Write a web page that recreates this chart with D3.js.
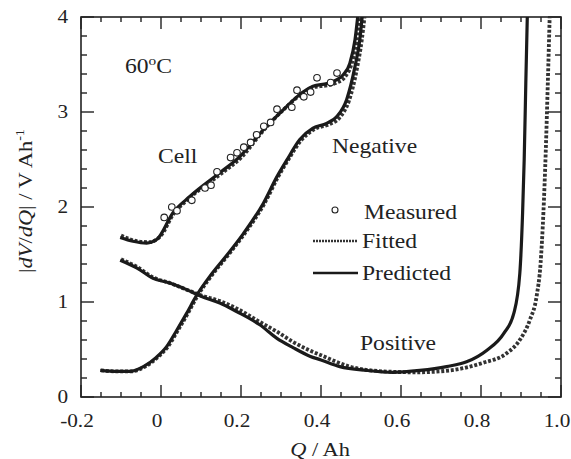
<!DOCTYPE html>
<html>
<head>
<meta charset="utf-8">
<script src="https://cdn.jsdelivr.net/npm/d3@7"></script>
<style>
  body { margin: 0; background: #fff; }
  text { font-family: "Liberation Serif", "Times New Roman", serif; fill: #222; }
</style>
</head>
<body>
<svg width="571" height="459"></svg>
<script>
// dV/dQ of cell and electrodes at 60 C

var xTicks = [-0.2, 0, 0.2, 0.4, 0.6, 0.8, 1.0];
var xTickLabels = ['-0.2', '0', '0.2', '0.4', '0.6', '0.8', '1.0'];
var yTicks = [0, 1, 2, 3, 4];

// measured cell points
var cellMeasured = [
  [0.008, 1.89], [0.027, 2.0], [0.04, 1.96], [0.077, 2.07], [0.11, 2.2],
  [0.125, 2.23], [0.14, 2.37], [0.174, 2.52], [0.19, 2.57], [0.207, 2.63],
  [0.224, 2.68], [0.239, 2.76], [0.257, 2.85], [0.274, 2.89], [0.29, 3.03],
  [0.327, 3.05], [0.34, 3.23], [0.357, 3.16], [0.374, 3.21], [0.39, 3.36],
  [0.424, 3.31], [0.44, 3.41]
];

var cellPredicted = [
  [-0.102, 1.68], [-0.07, 1.64], [-0.036, 1.62], [-0.01, 1.66], [0.03, 1.94],
  [0.072, 2.11], [0.147, 2.36], [0.197, 2.53], [0.255, 2.81], [0.305, 3.02],
  [0.355, 3.21], [0.38, 3.27], [0.415, 3.3], [0.44, 3.34], [0.455, 3.39],
  [0.472, 3.51], [0.485, 3.76], [0.493, 4.05]
];

var cellFitted = [
  [-0.1, 1.7], [-0.06, 1.64], [-0.03, 1.63], [0, 1.7], [0.03, 1.92],
  [0.07, 2.09], [0.15, 2.35], [0.2, 2.52], [0.255, 2.8], [0.305, 3.02],
  [0.355, 3.2], [0.38, 3.26], [0.415, 3.28], [0.44, 3.31], [0.46, 3.37],
  [0.476, 3.5], [0.489, 3.74], [0.497, 4.05]
];

var negPredicted = [
  [-0.152, 0.28], [-0.11, 0.27], [-0.078, 0.27], [-0.044, 0.32], [-0.011, 0.42],
  [0.014, 0.53], [0.039, 0.7], [0.064, 0.88], [0.089, 1.07], [0.122, 1.27],
  [0.164, 1.49], [0.206, 1.72], [0.256, 2.04], [0.29, 2.32], [0.314, 2.49],
  [0.347, 2.71], [0.38, 2.83], [0.414, 2.88], [0.439, 2.95], [0.464, 3.13],
  [0.485, 3.48], [0.497, 3.76], [0.504, 4.05]
];

var negFitted = [
  [-0.15, 0.28], [-0.11, 0.27], [-0.075, 0.27], [-0.04, 0.32], [-0.008, 0.42],
  [0.017, 0.53], [0.042, 0.7], [0.067, 0.88], [0.092, 1.07], [0.125, 1.27],
  [0.167, 1.49], [0.209, 1.72], [0.259, 2.04], [0.293, 2.32], [0.317, 2.49],
  [0.35, 2.7], [0.384, 2.82], [0.42, 2.87], [0.446, 2.94], [0.47, 3.12],
  [0.49, 3.46], [0.502, 3.76], [0.51, 4.05]
];

var posPredicted = [
  [-0.102, 1.44], [-0.061, 1.36], [-0.02, 1.25], [0.022, 1.2], [0.064, 1.13],
  [0.1, 1.06], [0.147, 0.99], [0.189, 0.9], [0.247, 0.76], [0.289, 0.62],
  [0.33, 0.52], [0.372, 0.43], [0.4, 0.39], [0.447, 0.32], [0.514, 0.28],
  [0.58, 0.26], [0.647, 0.28], [0.714, 0.32], [0.764, 0.37], [0.814, 0.49],
  [0.857, 0.67], [0.882, 0.88], [0.897, 1.3], [0.904, 1.94], [0.908, 2.5],
  [0.912, 3.3], [0.916, 4.05]
];

var posFitted = [
  [-0.1, 1.45], [-0.06, 1.37], [-0.02, 1.26], [0.022, 1.2], [0.064, 1.13],
  [0.1, 1.07], [0.147, 1.01], [0.19, 0.93], [0.247, 0.79], [0.289, 0.69],
  [0.33, 0.58], [0.372, 0.49], [0.4, 0.44], [0.472, 0.32], [0.555, 0.27],
  [0.639, 0.26], [0.722, 0.28], [0.805, 0.36], [0.864, 0.46], [0.897, 0.6],
  [0.922, 0.81], [0.939, 1.06], [0.949, 1.41], [0.956, 1.94], [0.962, 2.6],
  [0.967, 3.3], [0.972, 4.05]
];

var svg = d3.select('svg');
var pLeft = 81, pRight = 561, pTop = 17, pBottom = 397;
var stretch = 1.18;   // the original font runs wider than Liberation Serif

var x = d3.scaleLinear().domain([-0.2, 1.0]).range([pLeft, pRight]);
var y = d3.scaleLinear().domain([0, 4]).range([pBottom, pTop]);

svg.append('clipPath').attr('id', 'plotclip')
  .append('rect')
    .attr('x', pLeft).attr('y', pTop)
    .attr('width', pRight - pLeft).attr('height', pBottom - pTop);

// text placed at (px, py), widened along its own baseline
function label(px, py, size, anchor, rotate) {
  var g = svg.append('g')
    .attr('transform', 'translate(' + px + ',' + py + ')' +
      (rotate ? ' rotate(' + rotate + ')' : '') + ' scale(' + stretch + ',1)');
  return g.append('text')
    .attr('text-anchor', anchor || 'start')
    .style('font-size', size + 'px');
}

// ticks pointing inward on all four sides, drawn as thin bars
var xMinor = d3.range(-4, 21).map(function (i) { return i * 0.05; });
var yMinor = d3.range(0, 21).map(function (i) { return i * 0.2; });
var tickW = 1.4;

var tickG = svg.append('g').attr('fill', '#222');

tickG.selectAll('rect.xb')
  .data(xMinor)
  .enter().append('rect')
    .attr('class', 'xb')
    .attr('x', function (d) { return x(d) - tickW / 2; })
    .attr('y', function (d, i) { return pBottom - (i % 4 === 0 ? 12 : 5); })
    .attr('width', tickW)
    .attr('height', function (d, i) { return i % 4 === 0 ? 12 : 5; });

tickG.selectAll('rect.xt')
  .data(xMinor)
  .enter().append('rect')
    .attr('class', 'xt')
    .attr('x', function (d) { return x(d) - tickW / 2; })
    .attr('y', pTop)
    .attr('width', tickW)
    .attr('height', function (d, i) { return i % 4 === 0 ? 12 : 5; });

tickG.selectAll('rect.yl')
  .data(yMinor)
  .enter().append('rect')
    .attr('class', 'yl')
    .attr('x', pLeft)
    .attr('y', function (d) { return y(d) - tickW / 2; })
    .attr('width', function (d, i) { return i % 5 === 0 ? 13 : 6; })
    .attr('height', tickW);

tickG.selectAll('rect.yr')
  .data(yMinor)
  .enter().append('rect')
    .attr('class', 'yr')
    .attr('x', function (d, i) { return pRight - (i % 5 === 0 ? 13 : 6); })
    .attr('y', function (d) { return y(d) - tickW / 2; })
    .attr('width', function (d, i) { return i % 5 === 0 ? 13 : 6; })
    .attr('height', tickW);

svg.append('rect')
  .attr('x', pLeft).attr('y', pTop)
  .attr('width', pRight - pLeft).attr('height', pBottom - pTop)
  .attr('fill', 'none').attr('stroke', '#222').attr('stroke-width', 1.6);

// tick labels
xTicks.forEach(function (d, i) {
  label(x(d) - 4, 427, 18, 'middle').text(xTickLabels[i]);
});
yTicks.forEach(function (d) {
  label(68, y(d) + 6, 18, 'end').text(d);
});

// axis titles
var xt = label(320, 456, 19, 'middle');
xt.append('tspan').style('font-style', 'italic').text('Q');
xt.append('tspan').text(' / Ah');

var yt = label(32, 201, 19, 'middle', -90);
yt.append('tspan').text('|');
yt.append('tspan').style('font-style', 'italic').text('dV');
yt.append('tspan').text('/');
yt.append('tspan').style('font-style', 'italic').text('dQ');
yt.append('tspan').text('| / V Ah');
yt.append('tspan').attr('dy', -8).style('font-size', '12px').text('-1');

// curves
var line = d3.line()
  .x(function (d) { return x(d[0]); })
  .y(function (d) { return y(d[1]); })
  .curve(d3.curveMonotoneX);

var plot = svg.append('g').attr('clip-path', 'url(#plotclip)');

[cellFitted, negFitted, posFitted].forEach(function (s) {
  plot.append('path')
    .attr('d', line(s))
    .attr('fill', 'none')
    .attr('stroke', '#333')
    .attr('stroke-width', 3.8)
    .attr('stroke-dasharray', '3,1.8');
});

[cellPredicted, negPredicted, posPredicted].forEach(function (s) {
  plot.append('path')
    .attr('d', line(s))
    .attr('fill', 'none')
    .attr('stroke', '#1a1a1a')
    .attr('stroke-width', 3.2);
});

plot.selectAll('circle')
  .data(cellMeasured)
  .enter().append('circle')
    .attr('cx', function (d) { return x(d[0]); })
    .attr('cy', function (d) { return y(d[1]); })
    .attr('r', 3.3)
    .attr('fill', '#fff')
    .attr('stroke', '#222')
    .attr('stroke-width', 1.1);

// annotations
var temp = label(125, 73, 20);
temp.append('tspan').text('60');
temp.append('tspan').attr('dy', -8).style('font-size', '13px').text('o');
temp.append('tspan').attr('dy', 8).text('C');

label(158, 163, 20).text('Cell');
label(332, 153, 20).text('Negative');
label(360, 350, 20).text('Positive');

// legend
svg.append('circle')
  .attr('cx', 335).attr('cy', 210).attr('r', 3)
  .attr('fill', '#fff').attr('stroke', '#222').attr('stroke-width', 1.1);
label(364, 219, 20).text('Measured');

svg.append('line')
  .attr('x1', 313).attr('x2', 358).attr('y1', 241).attr('y2', 241)
  .attr('stroke', '#333').attr('stroke-width', 2.4).attr('stroke-dasharray', '2,1');
label(362, 248, 20).text('Fitted');

svg.append('line')
  .attr('x1', 313).attr('x2', 358).attr('y1', 273).attr('y2', 273)
  .attr('stroke', '#1a1a1a').attr('stroke-width', 2.5);
label(362, 280, 20).text('Predicted');
</script>
</body>
</html>
